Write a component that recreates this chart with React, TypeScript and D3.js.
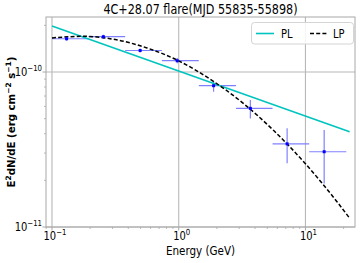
import React from "react";
import * as d3 from "d3";

// SED points (GeV, erg cm^-2 s^-1)
const energy = [0.1304, 0.2543, 0.4962, 0.973, 1.884, 3.675, 7.167, 14.05];
const energyLow = [0.1, 0.194, 0.378, 0.737, 1.44, 2.83, 5.5, 10.7];
const energyHigh = [0.194, 0.378, 0.737, 1.44, 2.83, 5.5, 10.7, 21.0];
const flux = [1.64e-10, 1.69e-10, 1.377e-10, 1.183e-10, 8.16e-11, 5.83e-11, 3.44e-11, 3.06e-11];
const fluxLow = [1.59e-10, 1.64e-10, 1.335e-10, 1.14e-10, 7.46e-11, 5.02e-11, 2.58e-11, 1.91e-11];
const fluxHigh = [1.69e-10, 1.74e-10, 1.42e-10, 1.23e-10, 8.75e-11, 6.59e-11, 4.34e-11, 4.23e-11];

// model curves
const plEnergy = [0.1, 22.3];
const plFlux = [1.98e-10, 4.12e-11];
const lpEnergy = [0.1, 0.178, 0.316, 0.562, 1, 1.78, 3.16, 5.62, 10, 17.8, 22.3];
const lpFlux = [1.66e-10, 1.7e-10, 1.62e-10, 1.43e-10, 1.18e-10, 8.97e-11, 6.37e-11, 4.19e-11, 2.56e-11, 1.45e-11, 1.14e-11];

const xTicks = [0.1, 1, 10];
const xTickExp = ["\u22121", "0", "1"];
const yTicks = [1e-11, 1e-10];
const yTickExp = ["\u221211", "\u221210"];

const W = 360;
const H = 263;
const left = 46, right = 355, top = 17, bottom = 227;
const SQ = 0.83; // horizontal squeeze of the picture
const FONT = "DejaVu Sans";

const Sup = ({ x, y, base, exp, anchor, size }: any) => (
  <g transform={`translate(${x},${y}) scale(${SQ},1)`}>
    <text textAnchor={anchor} fontSize={size} fontFamily={FONT} fill="#000">
      {base}
      <tspan dy={-size * 0.4} fontSize={size * 0.7}>{exp}</tspan>
    </text>
  </g>
);

export default function App() {
  const x = d3.scaleLog().domain([0.0897, 24.6]).range([left, right]);
  const y = d3.scaleLog().domain([1e-11, 2.265e-10]).range([bottom, top]);

  const xMinor: number[] = [];
  for (let p = -2; p <= 1; p++)
    for (let k = 2; k <= 9; k++) {
      const v = k * Math.pow(10, p);
      if (v > 0.0897 && v < 24.6) xMinor.push(v);
    }
  const yMinor: number[] = [];
  for (let p = -11; p <= -10; p++)
    for (let k = 2; k <= 9; k++) {
      const v = k * Math.pow(10, p);
      if (v > 1e-11 && v < 2.265e-10) yMinor.push(v);
    }

  const line = d3
    .line<[number, number]>()
    .x((d) => x(d[0]))
    .y((d) => y(d[1]))
    .curve(d3.curveMonotoneX);

  const plData = plEnergy.map((e, i) => [e, plFlux[i]] as [number, number]);
  const lpData = lpEnergy.map((e, i) => [e, lpFlux[i]] as [number, number]);

  const grid = "#b8b8b8";
  const spine = "#a8a8a8";
  const errColor = "#8080ff";

  return (
    <svg width={W} height={H} style={{ position: "absolute", left: 0, top: 0, background: "#fff" }}>
      <rect x={0} y={0} width={W} height={H} fill="#fff" />
      {/* grid */}
      {xTicks.map((t) => (
        <line key={"gx" + t} x1={x(t)} x2={x(t)} y1={top} y2={bottom} stroke={grid} strokeWidth={1.1} />
      ))}
      {yTicks.map((t) => (
        <line key={"gy" + t} x1={left} x2={right} y1={y(t)} y2={y(t)} stroke={grid} strokeWidth={1.1} />
      ))}

      {/* ticks */}
      {xTicks.map((t) => (
        <line key={"tx" + t} x1={x(t)} x2={x(t)} y1={bottom} y2={bottom + 3.5} stroke={spine} />
      ))}
      {xMinor.map((t) => (
        <line key={"mx" + t} x1={x(t)} x2={x(t)} y1={bottom} y2={bottom + 2} stroke={spine} strokeWidth={0.8} />
      ))}
      {yTicks.map((t) => (
        <line key={"ty" + t} x1={left - 3.5} x2={left} y1={y(t)} y2={y(t)} stroke={spine} />
      ))}
      {yMinor.map((t) => (
        <line key={"my" + t} x1={left - 2} x2={left} y1={y(t)} y2={y(t)} stroke={spine} strokeWidth={0.8} />
      ))}

      {/* error bars */}
      {energy.map((e, i) => (
        <g key={"e" + i}>
          <line x1={x(energyLow[i])} x2={x(energyHigh[i])} y1={y(flux[i])} y2={y(flux[i])} stroke={errColor} strokeWidth={1.2} />
          <line x1={x(e)} x2={x(e)} y1={y(fluxLow[i])} y2={y(fluxHigh[i])} stroke={errColor} strokeWidth={1.2} />
        </g>
      ))}

      {/* models */}
      <path d={line(plData) || ""} fill="none" stroke="#00c4bf" strokeWidth={1.6} />
      <path d={line(lpData) || ""} fill="none" stroke="#000" strokeWidth={1.5} strokeDasharray="4,2.2" />

      {/* points */}
      {energy.map((e, i) => (
        <rect key={"p" + i} x={x(e) - 1.5} y={y(flux[i]) - 1.5} width={3} height={3} fill="#0000ff" />
      ))}

      {/* spines */}
      <rect x={left} y={top} width={right - left} height={bottom - top} fill="none" stroke={spine} strokeWidth={1} />

      {/* tick labels */}
      {xTicks.map((t, i) => (
        <Sup key={"lx" + t} x={x(t) + 3} y={240} base="10" exp={xTickExp[i]} anchor="middle" size={12} />
      ))}
      {yTicks.map((t, i) => (
        <Sup key={"ly" + t} x={42} y={y(t) + 4} base="10" exp={yTickExp[i]} anchor="end" size={12} />
      ))}

      {/* legend */}
      <rect x={251.5} y={22.5} width={102} height={21.5} rx={3} fill="#fff" fillOpacity={0.85} stroke="#d4d4d4" />
      <line x1={256} x2={274} y1={33.5} y2={33.5} stroke="#00c4bf" strokeWidth={1.6} />
      <g transform={`translate(281,38) scale(${SQ},1)`}>
        <text fontSize={12} fontFamily={FONT}>PL</text>
      </g>
      <line x1={310} x2={328} y1={33.5} y2={33.5} stroke="#000" strokeWidth={1.5} strokeDasharray="4,2.2" />
      <g transform={`translate(333,38) scale(${SQ},1)`}>
        <text fontSize={12} fontFamily={FONT}>LP</text>
      </g>

      {/* title and axis labels */}
      <g transform={`translate(${(left + right) / 2},14) scale(${SQ},1)`}>
        <text textAnchor="middle" fontSize={13.5} fontFamily={FONT}>4C+28.07 flare(MJD 55835-55898)</text>
      </g>
      <g transform={`translate(${(left + right) / 2},255) scale(${SQ},1)`}>
        <text textAnchor="middle" fontSize={12.5} fontFamily={FONT}>Energy (GeV)</text>
      </g>
      <g transform={`translate(15,${(top + bottom) / 2}) rotate(-90)`}>
        <text textAnchor="middle" fontSize={10.2} fontWeight="bold" fontFamily={FONT}>
          E<tspan dy={-4} fontSize={7.5}>2</tspan>
          <tspan dy={4}>dN/dE (erg cm</tspan>
          <tspan dy={-4} fontSize={7.5}>{"\u22122"}</tspan>
          <tspan dy={4}> s</tspan>
          <tspan dy={-4} fontSize={7.5}>{"\u22121"}</tspan>
          <tspan dy={4}>)</tspan>
        </text>
      </g>
    </svg>
  );
}
